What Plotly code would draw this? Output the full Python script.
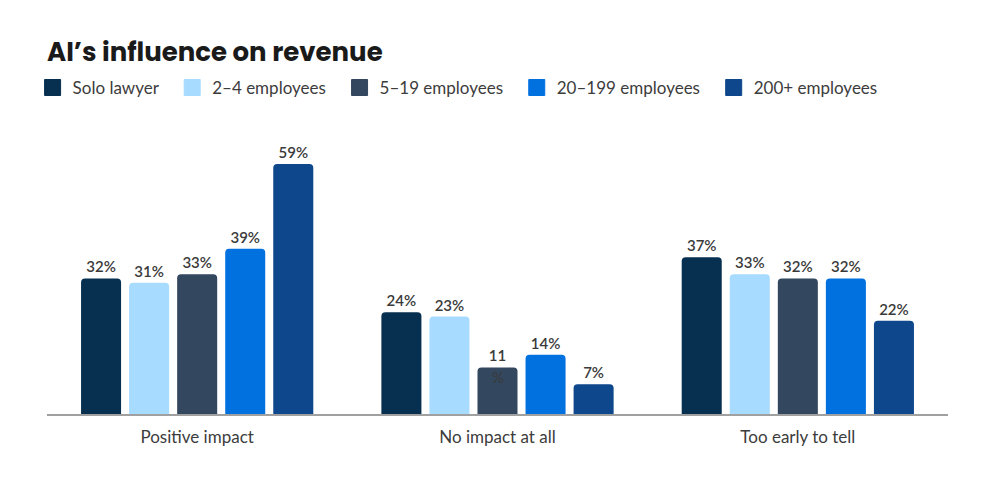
import plotly.graph_objects as go

categories = ["Positive impact", "No impact at all", "Too early to tell"]
series_names = ["Solo lawyer", "2–4 employees", "5–19 employees", "20–199 employees", "200+ employees"]
solo = [32, 24, 37]
emp_2_4 = [31, 23, 33]
emp_5_19 = [33, 11, 32]
emp_20_199 = [39, 14, 32]
emp_200 = [59, 7, 22]
series_values = [solo, emp_2_4, emp_5_19, emp_20_199, emp_200]
colors = ["#073050", "#a7dbff", "#33475f", "#0271e0", "#0e478c"]

BODY = "Lato, 'Source Sans Pro', sans-serif"
BARGAP = 0.2

fig = go.Figure()
annotations = []
n = len(series_names)
for i, (name, vals, col) in enumerate(zip(series_names, series_values, colors)):
    labels = []
    for j, v in enumerate(vals):
        if v == 11:
            # original label wraps: "11" above the bar, "%" drops onto the bar top
            labels.append(f"{v}")
            annotations.append(dict(
                x=j + (i - (n - 1) / 2) * (1 - BARGAP) / n, y=v, xref="x", yref="y",
                text="%", showarrow=False, yanchor="top", yshift=1,
                font=dict(family=BODY, size=15, color="#3a3a3a")))
        else:
            labels.append(f"{v}%")
    fig.add_trace(go.Bar(
        name=name, x=categories, y=vals, marker=dict(color=col, line=dict(width=0)),
        text=labels, textposition="outside", cliponaxis=False,
        textfont=dict(family=BODY, size=15, color="#3a3a3a", weight=600),
        showlegend=False,
    ))
    # legend proxy with a larger square symbol
    fig.add_trace(go.Scatter(
        name=name + "\u00a0\u00a0", x=[None], y=[None], mode="markers",
        marker=dict(symbol="square", size=16, color=col, line=dict(color=col, width=1)),
        showlegend=True,
    ))

fig.update_layout(
    width=990, height=484,
    margin=dict(l=39, r=50, t=112, b=78),
    paper_bgcolor="white", plot_bgcolor="white",
    barmode="group", bargap=BARGAP, bargroupgap=0.167, barcornerradius=4,
    title=dict(text="<b>AI’s influence on revenue</b>", x=0, xref="paper", xanchor="left",
               y=0.909, yanchor="middle",
               font=dict(family="Poppins, Inter, 'Open Sans', sans-serif", size=26, color="#1a1a1a")),
    legend=dict(orientation="h", x=-0.016, xanchor="left", y=1.109, yanchor="middle",
                font=dict(family=BODY, size=17, color="#3c3c3c"),
                itemwidth=30, traceorder="normal"),
    xaxis=dict(showline=True, linecolor="#a0a0a0", linewidth=2, ticks="",
               ticklabelstandoff=7,
               tickfont=dict(family=BODY, size=17, color="#3c3c3c"), showgrid=False, zeroline=False),
    yaxis=dict(range=[0, 69.4], visible=False, showgrid=False, zeroline=False),
    annotations=annotations,
)

fig.write_html("out.html")
